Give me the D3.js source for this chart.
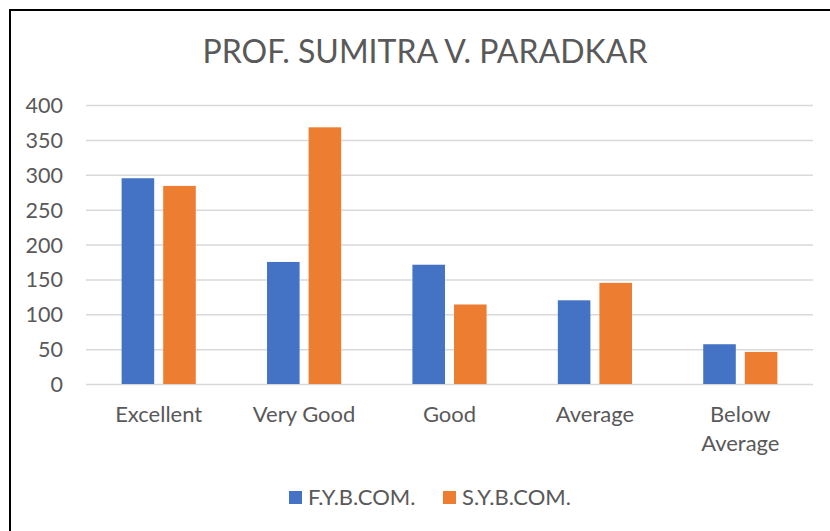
<!DOCTYPE html>
<html>
<head>
<meta charset="utf-8">
<script src="https://cdn.jsdelivr.net/npm/d3@7"></script>
<style>
  body { margin: 0; background: #fff; }
  text { font-family: Lato, "Open Sans", sans-serif; fill: #595959; }
</style>
</head>
<body>
<div id="chart"></div>
<script>
// chart data
let categories = ["Excellent", "Very Good", "Good", "Average", "Below Average"];
let seriesNames = ["F.Y.B.COM.", "S.Y.B.COM."];
let fyValues = [295, 175, 171, 120, 57];
let syValues = [284, 368, 114, 145, 46];
let yTicks = [0, 50, 100, 150, 200, 250, 300, 350, 400];
let colors = ["#4472C4", "#ED7D31"];

let width = 830, height = 531;
let margin = { top: 105, right: 17, bottom: 147, left: 86 };
let innerW = width - margin.left - margin.right,
    innerH = height - margin.top - margin.bottom;

let svg = d3.select("#chart").append("svg")
    .attr("width", width)
    .attr("height", height);

// outer frame
svg.append("rect")
    .attr("x", 10).attr("y", 10)
    .attr("width", 840).attr("height", 540)
    .attr("fill", "none")
    .attr("stroke", "#000")
    .attr("stroke-width", 2);

// title
svg.append("text")
    .attr("x", 425).attr("y", 63)
    .attr("text-anchor", "middle")
    .style("font-size", "32px")
    .text("PROF. SUMITRA V. PARADKAR");

let g = svg.append("g")
    .attr("transform", "translate(" + margin.left + "," + margin.top + ")");

// scales
let x0 = d3.scaleBand()
    .domain(categories)
    .range([0, innerW])
    .paddingInner(0.49)
    .paddingOuter(0.245);

let x1 = d3.scaleBand()
    .domain(seriesNames)
    .range([0, x0.bandwidth()])
    .paddingInner(0.217);

let y = d3.scaleLinear()
    .domain([0, 400])
    .range([innerH, 0]);

// gridlines
g.append("g")
    .attr("class", "grid")
    .call(d3.axisLeft(y).tickValues(yTicks).tickSize(-innerW).tickFormat(""))
    .call(ax => ax.select(".domain").remove())
    .selectAll("line")
    .attr("stroke", "#d9d9d9")
    .attr("stroke-width", 1.5);

// y axis labels
g.append("g")
    .attr("class", "y-axis")
    .attr("transform", "translate(-23,0)")
    .call(d3.axisLeft(y).tickValues(yTicks).tickSize(0).tickPadding(0))
    .call(ax => ax.select(".domain").remove())
    .selectAll("text")
    .style("font-size", "21.5px")
    .attr("dy", "0.35em");

// bars
let rows = categories.map((c, i) => ({ category: c, values: [fyValues[i], syValues[i]] }));

let groups = g.selectAll(".group")
    .data(rows)
    .enter().append("g")
    .attr("class", "group")
    .attr("transform", d => "translate(" + x0(d.category) + ",0)");

groups.selectAll("rect")
    .data(d => d.values.map((v, j) => ({ series: seriesNames[j], value: v, idx: j })))
    .enter().append("rect")
    .attr("x", d => x1(d.series))
    .attr("y", d => y(d.value))
    .attr("width", x1.bandwidth())
    .attr("height", d => innerH - y(d.value))
    .attr("fill", d => colors[d.idx]);

// x axis labels (wrap "Below Average")
let xAxis = g.append("g")
    .attr("class", "x-axis")
    .attr("transform", "translate(0," + innerH + ")");

categories.forEach(c => {
    let words = c === "Below Average" ? ["Below", "Average"] : [c];
    let t = xAxis.append("text")
        .attr("x", x0(c) + x0.bandwidth() / 2)
        .attr("y", 38)
        .attr("text-anchor", "middle")
        .style("font-size", "22px");
    words.forEach((w, k) => {
        t.append("tspan")
            .attr("x", x0(c) + x0.bandwidth() / 2)
            .attr("dy", k === 0 ? 0 : 29)
            .text(w);
    });
});

// legend
let legendX = [289, 443];
seriesNames.forEach((s, i) => {
    svg.append("rect")
        .attr("x", legendX[i]).attr("y", 491)
        .attr("width", 13).attr("height", 13)
        .attr("fill", colors[i]);
    svg.append("text")
        .attr("x", legendX[i] + 19).attr("y", 505)
        .style("font-size", "22px")
        .text(s);
});
</script>
</body>
</html>
